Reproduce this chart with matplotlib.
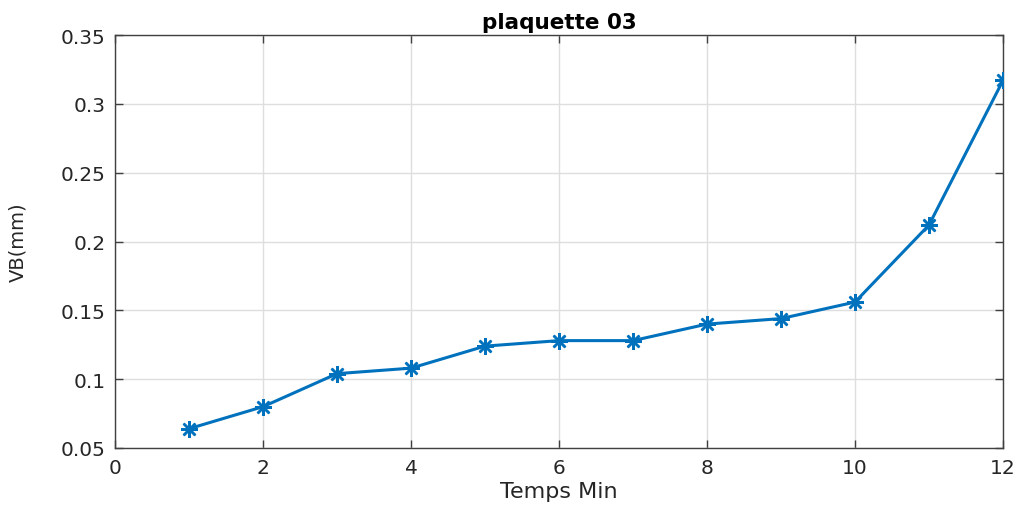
import matplotlib
matplotlib.use("Agg")
import matplotlib.pyplot as plt

# Flank wear VB measured over machining time
temps_min = [1, 2, 3, 4, 5, 6, 7, 8, 9, 10, 11, 12]
vb_mm = [0.064, 0.080, 0.104, 0.108, 0.124, 0.128, 0.128, 0.140, 0.144, 0.156, 0.212, 0.317]

x_ticks = [0, 2, 4, 6, 8, 10, 12]
y_ticks = [0.05, 0.1, 0.15, 0.2, 0.25, 0.3, 0.35]
y_tick_labels = ["0.05", "0.1", "0.15", "0.2", "0.25", "0.3", "0.35"]

plt.rcParams["font.family"] = ["DejaVu Sans"]

fig = plt.figure(figsize=(10.22, 5.06), dpi=100)
ax = fig.add_axes([115 / 1022, 1 - 449 / 506, (1003 - 115) / 1022, (449 - 36) / 506])

ax.plot(temps_min, vb_mm, color="#0072BD", linewidth=2.2, marker=(8, 2, 0),
        markersize=12, markeredgewidth=1.8, zorder=3)

ax.set_xlim(0, 12)
ax.set_ylim(0.05, 0.35)
ax.set_xticks(x_ticks)
ax.set_yticks(y_ticks)
ax.set_yticklabels(y_tick_labels)
ax.grid(True, color="#dedede", linewidth=1.0)
ax.set_axisbelow(True)

for side in ["top", "right", "bottom", "left"]:
    ax.spines[side].set_color("#404040")
    ax.spines[side].set_linewidth(1.0)

ax.tick_params(axis="both", direction="in", length=6, width=1.0, color="#404040",
               labelsize=14.5, labelcolor="#262626", top=True, right=True, pad=7)

ax.set_xlabel("Temps Min", fontsize=16, color="#262626", labelpad=3)
ax.set_ylabel("VB(mm)", fontsize=14, color="#262626", labelpad=24)
ax.set_title("plaquette 03", fontsize=15.5, fontweight="bold", pad=5)

fig.savefig("out.png", dpi=100)
